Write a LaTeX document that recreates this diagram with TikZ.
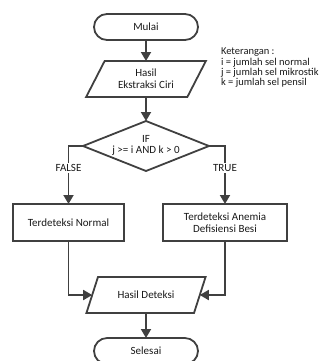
\documentclass[tikz,border=0pt]{standalone}
\usepackage{fontspec}
\setmainfont{Carlito}
\usepackage{tikz}
\usetikzlibrary{shapes.geometric, arrows.meta, positioning}
\definecolor{linegray}{HTML}{404040}
\definecolor{textdark}{HTML}{1A1A1A}
\tikzstyle{terminal} = [rectangle, rounded corners=13pt, minimum width=104pt, minimum height=26pt, text centered, draw=linegray, line width=1.8pt, fill=white, text=textdark]
\tikzstyle{io} = [trapezium, trapezium left angle=62, trapezium right angle=118, trapezium stretches=true, minimum width=120pt, minimum height=36pt, text centered, align=center, draw=linegray, line width=1.8pt, fill=white, text=textdark]
\tikzstyle{decision} = [diamond, minimum width=126pt, minimum height=50pt, inner sep=0pt, draw=linegray, line width=1.8pt, fill=white]
\tikzstyle{process} = [rectangle, minimum height=37pt, text centered, align=center, draw=linegray, line width=1.8pt, fill=white, text=textdark]
\tikzstyle{arrow} = [line width=1.8pt, -{Triangle[length=9pt,width=10pt]}, color=linegray]
\tikzstyle{lbl} = [fill=white, inner sep=1.5pt, text=textdark]

\begin{document}
\begin{tikzpicture}[every node/.style={font=\fontsize{11}{12}\selectfont, outer sep=0pt}]
    \useasboundingbox (0,0) rectangle (325pt,-361pt);
    \node[terminal] (start) at (146pt,-27pt) {Mulai};
    \node[io, below=21pt of start] (fitur) {Hasil\\Ekstraksi Ciri};
    \node[decision, below=24pt of fitur] (cek) {};
    \node[align=center, text=textdark, yshift=1pt] (syarat) at (cek) {IF\\[-1pt]j >= i AND k > 0};
    \node[process, minimum width=111pt, below=33pt of cek, xshift=-77.5pt] (normal) {Terdeteksi Normal};
    \node[process, minimum width=124pt, below=33pt of cek, xshift=79pt] (anemia) {Terdeteksi Anemia\\Defisiensi Besi};
    \coordinate (mid) at (cek |- normal.south);
    \node[io, below=36pt of mid] (hasil) {Hasil Deteksi};
    \node[terminal, below=25pt of hasil] (stop) {Selesai};
    \node[anchor=north west, align=left, inner sep=0pt, text=textdark,
          font=\fontsize{10.5}{10.4}\selectfont] (ket) at (221pt,-48pt)
        {Keterangan :\\i = jumlah sel normal\\j = jumlah sel mikrostik\\k = jumlah sel pensil};

    \draw[arrow] (start) -- (fitur);
    \draw[arrow] (fitur) -- (cek);
    \draw[arrow] (cek.west) -| node[lbl, pos=0.69] {FALSE} (normal);
    \draw[arrow] (cek.east) -| node[lbl, pos=0.69] {TRUE} (anemia);
    \draw[arrow] (normal) |- (hasil);
    \draw[arrow] (anemia) |- (hasil);
    \draw[arrow] (hasil) -- (stop);
\end{tikzpicture}
\end{document}
